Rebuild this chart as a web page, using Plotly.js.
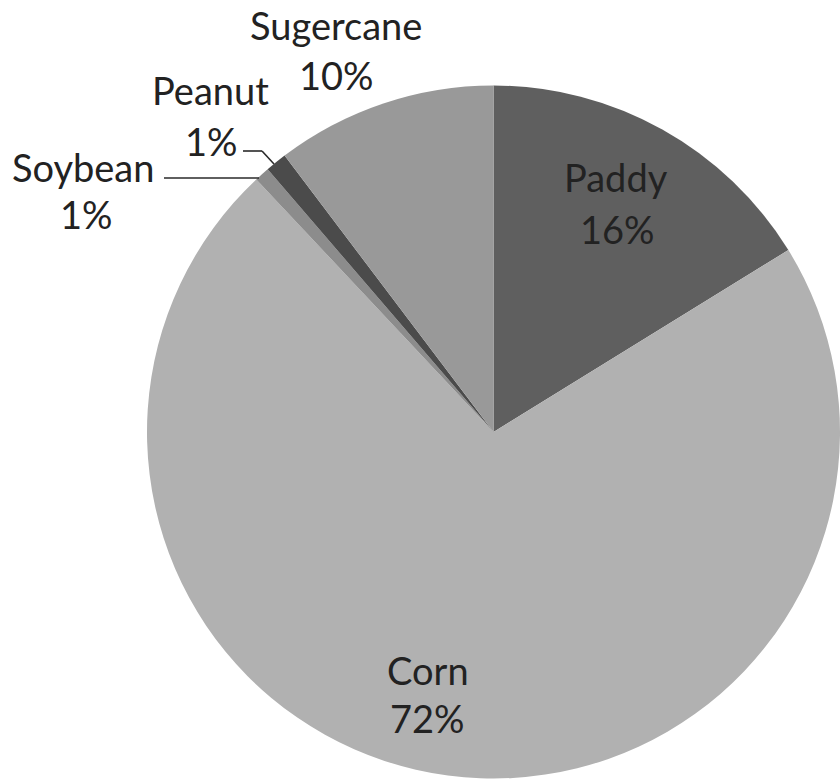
<!DOCTYPE html>
<html>
<head>
<meta charset="utf-8">
<script src="https://cdn.plot.ly/plotly-3.0.1.min.js"></script>
<style>
  html, body { margin: 0; padding: 0; background: #ffffff; }
  #chart { width: 840px; height: 781px; }
</style>
</head>
<body>
<div id="chart"></div>
<script>
// Crop share by area
const crops = ['Paddy', 'Corn', 'Soybean', 'Peanut', 'Sugercane'];
const shares = [16.2, 71.8, 0.7, 1.0, 10.3];
const sliceColors = ['#5f5f5f', '#b1b1b1', '#8c8c8c', '#4b4b4b', '#999999'];

// Label placement (pixel centres of name line / percent line)
const labelPos = [
  { name: [616, 177], pct: [617, 229] },
  { name: [428, 670], pct: [427, 718] },
  { name: [83, 167],  pct: [86, 214] },
  { name: [210, 90],  pct: [211, 141] },
  { name: [336, 25],  pct: [336, 75] }
];

const W = 840, H = 781;
const px = x => x / W;
const py = y => 1 - y / H;

const total = shares.reduce((a, b) => a + b, 0);
const pctText = shares.map(v => Math.round(v / total * 100) + '%');

const labelFont = { family: 'Lato, "Open Sans", sans-serif', size: 38, color: '#222222' };

const annotations = [];
crops.forEach((c, i) => {
  annotations.push({
    xref: 'paper', yref: 'paper', x: px(labelPos[i].name[0]), y: py(labelPos[i].name[1]),
    text: c, showarrow: false, xanchor: 'center', yanchor: 'middle', font: labelFont
  });
  annotations.push({
    xref: 'paper', yref: 'paper', x: px(labelPos[i].pct[0]), y: py(labelPos[i].pct[1]),
    text: pctText[i], showarrow: false, xanchor: 'center', yanchor: 'middle', font: labelFont
  });
});

// Leader lines for the small outside-labelled slices
const leader = (x0, y0, x1, y1) => ({
  type: 'line', xref: 'paper', yref: 'paper',
  x0: px(x0), y0: py(y0), x1: px(x1), y1: py(y1),
  line: { color: '#2a2a2a', width: 1.6 }
});
const shapes = [
  leader(164, 178, 259, 178),
  leader(243, 151, 262, 151),
  leader(262, 151, 274, 164)
];

const data = [{
  type: 'pie',
  labels: crops,
  values: shares,
  sort: false,
  direction: 'clockwise',
  rotation: 0,
  textinfo: 'none',
  hoverinfo: 'label+percent',
  marker: { colors: sliceColors, line: { width: 0 } },
  domain: { x: [147 / W, 1], y: [1 - 779 / H, 1 - 85 / H] },
  showlegend: false
}];

const layout = {
  width: W, height: H,
  margin: { l: 0, r: 0, t: 0, b: 0 },
  paper_bgcolor: '#ffffff',
  showlegend: false,
  annotations: annotations,
  shapes: shapes
};

Plotly.newPlot('chart', data, layout, { displayModeBar: false, staticPlot: true });
</script>
</body>
</html>
